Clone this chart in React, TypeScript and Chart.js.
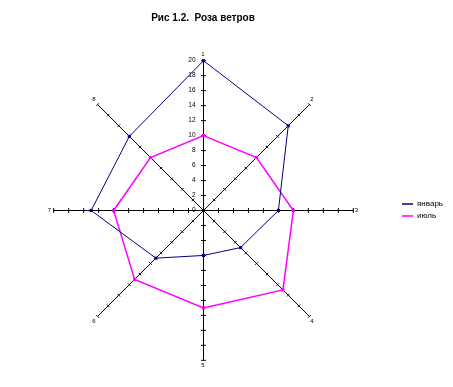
import { useEffect, useRef } from "react";
import { Chart, registerables } from "chart.js";

Chart.register(...registerables);

const directions = ["1", "2", "3", "4", "5", "6", "7", "8"];
const january = [20, 16, 10, 7, 6, 9, 15, 14];
const july = [10, 10, 12, 15, 13, 13, 12, 10];
const seriesNames = ["январь", "июль"];
const tickMin = 0;
const tickMax = 20;
const tickStep = 2;
const titleText = "Рис 1.2.  Роза ветров";

const FONT = "'Liberation Sans', Arial, sans-serif";

const axisTicksPlugin = {
  id: "axisTicks",
  afterLayout(chart: any) {
    // align the radial centre on a pixel centre so 1px axes are crisp
    const s = chart.scales.r;
    s.xCenter += 0.5;
    s.yCenter += 0.5;
  },
  beforeDatasetsDraw(chart: any) {
    const scale = chart.scales.r;
    const ctx = chart.ctx;
    const n = chart.data.labels.length;
    ctx.save();
    ctx.strokeStyle = "#000";
    ctx.lineWidth = 1;
    for (let i = 0; i < n; i++) {
      const a = scale.getIndexAngle(i) - Math.PI / 2;
      const px = -Math.sin(a);
      const py = Math.cos(a);
      const half = i % 2 === 0 ? 2.5 : 1.8;
      for (const t of scale.ticks) {
        const d = scale.getDistanceFromCenterForValue(t.value);
        const p = scale.getPointPosition(i, d);
        ctx.beginPath();
        ctx.moveTo(p.x - px * half, p.y - py * half);
        ctx.lineTo(p.x + px * half, p.y + py * half);
        ctx.stroke();
      }
    }
    ctx.fillStyle = "#000";
    ctx.font = `6.5px ${FONT}`;
    ctx.textAlign = "right";
    ctx.textBaseline = "middle";
    for (const t of scale.ticks) {
      const d = scale.getDistanceFromCenterForValue(t.value);
      const p = scale.getPointPosition(0, d);
      ctx.fillText(t.label, p.x - 8, p.y);
    }
    ctx.restore();
  },
};

export default function App() {
  const ref = useRef<HTMLCanvasElement>(null);
  useEffect(() => {
    if (!ref.current) return;
    const chart = new Chart(ref.current, {
      type: "radar",
      data: {
        labels: directions,
        datasets: [
          {
            label: seriesNames[0],
            data: january,
            borderColor: "#000080",
            backgroundColor: "#000080",
            pointBackgroundColor: "#000080",
            pointBorderColor: "#000080",
            borderWidth: 1,
            pointStyle: "rect",
            pointRadius: 2.2,
            pointBorderWidth: 0,
            fill: false,
          },
          {
            label: seriesNames[1],
            data: july,
            borderColor: "#FF00FF",
            backgroundColor: "#FF00FF",
            pointBackgroundColor: "#FF00FF",
            pointBorderColor: "#FF00FF",
            borderWidth: 1.5,
            pointStyle: "rect",
            pointRadius: 2.2,
            pointBorderWidth: 0,
            fill: false,
          },
        ],
      },
      options: {
        animation: false,
        responsive: true,
        maintainAspectRatio: false,
        layout: { padding: { left: 8, bottom: 18 } },
        scales: {
          r: {
            min: tickMin,
            max: tickMax,
            beginAtZero: true,
            ticks: { display: false, stepSize: tickStep },
            grid: { display: false },
            angleLines: { display: true, color: "#000", lineWidth: 1 },
            pointLabels: {
              display: true,
              color: "#000",
              padding: 2,
              font: { family: FONT, size: 6, lineHeight: 1.2 },
            },
          },
        },
        plugins: {
          title: {
            display: true,
            text: titleText,
            color: "#000",
            fullSize: false,
            font: { family: FONT, size: 10, weight: "bold", lineHeight: 1.2 },
            padding: { top: 12, bottom: 27 },
          },
          legend: {
            position: "right",
            fullSize: false,
            labels: {
              boxWidth: 11,
              boxHeight: 0,
              color: "#000",
              padding: 4,
              font: { family: FONT, size: 8 },
            },
          },
          tooltip: { enabled: false },
        },
      },
      plugins: [axisTicksPlugin],
    } as any);
    return () => chart.destroy();
  }, []);
  return (
    <div style={{ position: "fixed", left: 0, top: 0, width: 453, height: 387, background: "#fff" }}>
      <canvas ref={ref} />
    </div>
  );
}
